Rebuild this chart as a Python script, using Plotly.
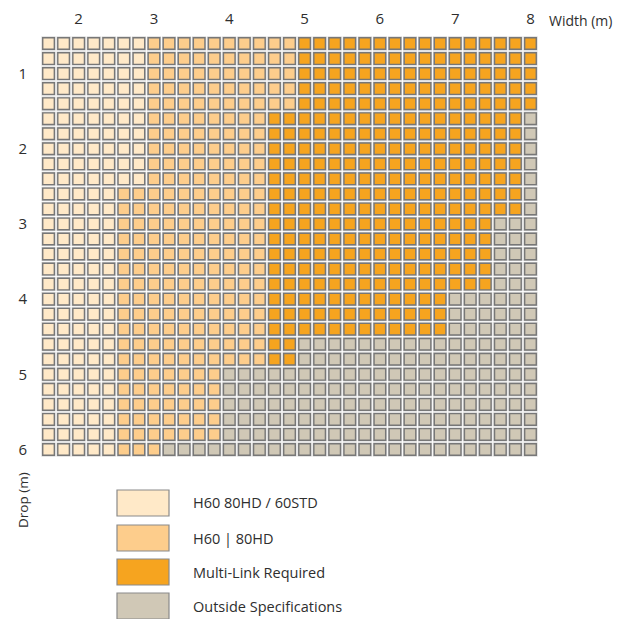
import plotly.graph_objects as go

# ---- data ----
widths = [1.6, 1.8, 2.0, 2.2, 2.4, 2.6, 2.8, 3.0, 3.2, 3.4, 3.6, 3.8, 4.0, 4.2, 4.4, 4.6, 4.8,
          5.0, 5.2, 5.4, 5.6, 5.8, 6.0, 6.2, 6.4, 6.6, 6.8, 7.0, 7.2, 7.4, 7.6, 7.8, 8.0]
drops = [0.6, 0.8, 1.0, 1.2, 1.4, 1.6, 1.8, 2.0, 2.2, 2.4, 2.6, 2.8, 3.0, 3.2, 3.4, 3.6, 3.8,
         4.0, 4.2, 4.4, 4.6, 4.8, 5.0, 5.2, 5.4, 5.6, 5.8, 6.0]

# maximum width (m) for each drop row, per category
light_max = [2.8, 2.8, 2.8, 2.8, 2.8, 2.8, 2.8, 2.8, 2.8, 2.8, 2.4, 2.4, 2.4, 2.4, 2.4, 2.4, 2.4,
             2.4, 2.4, 2.4, 2.4, 2.4, 2.4, 2.4, 2.4, 2.4, 2.4, 2.4]
medium_max = [4.8, 4.8, 4.8, 4.8, 4.8, 4.4, 4.4, 4.4, 4.4, 4.4, 4.4, 4.4, 4.4, 4.4, 4.4, 4.4, 4.4,
              4.4, 4.4, 4.4, 4.4, 4.4, 3.8, 3.8, 3.8, 3.8, 3.8, 3.0]
multi_max = [8.0, 8.0, 8.0, 8.0, 8.0, 7.8, 7.8, 7.8, 7.8, 7.8, 7.8, 7.8, 7.4, 7.4, 7.4, 7.4, 7.4,
             6.8, 6.8, 6.8, 4.8, 4.8, 3.8, 3.8, 3.8, 3.8, 3.8, 3.0]

x_ticks = [2, 3, 4, 5, 6, 7, 8]
y_ticks = [1, 2, 3, 4, 5, 6]

categories = ["H60 80HD / 60STD", "H60 | 80HD", "Multi-Link Required", "Outside Specifications"]
colors = ["#FFE9C8", "#FDCD8C", "#F6A41F", "#D0C8B6"]

# ---- classify cells ----
cells = {i: ([], []) for i in range(4)}
eps = 1e-6
for r, d in enumerate(drops):
    for w in widths:
        if w <= light_max[r] + eps:
            c = 0
        elif w <= medium_max[r] + eps:
            c = 1
        elif w <= multi_max[r] + eps:
            c = 2
        else:
            c = 3
        cells[c][0].append(w)
        cells[c][1].append(d)

FONT = "Open Sans"
TXT = "#2e2e2e"

fig = go.Figure()
for i in range(4):
    fig.add_trace(go.Scatter(
        x=cells[i][0], y=cells[i][1], mode="markers", name=categories[i],
        marker=dict(symbol="square", size=14.2, color="#d2d2d2", line=dict(width=0)),
        hoverinfo="skip", showlegend=False))
for i in range(4):
    fig.add_trace(go.Scatter(
        x=cells[i][0], y=cells[i][1], mode="markers", name=categories[i],
        marker=dict(symbol="square", size=11.6, color=colors[i],
                    line=dict(width=1.4, color="#777777")),
        showlegend=False))

OFF = 8  # page body margin
W, H = 621 - OFF, 619 - OFF
ML, MT = 41 - OFF, 36 - OFF
MR = W - (538 - OFF)
MB = H - (457 - OFF)
PW, PH = W - ML - MR, H - MT - MB


def px_x(px):
    return (px - OFF - ML) / PW


def px_y(py):
    return (H - MB - (py - OFF)) / PH


shapes = []
annotations = []
box_tops = [490, 525, 559, 593]
for i, top in enumerate(box_tops):
    shapes.append(dict(type="rect", xref="paper", yref="paper",
                       x0=px_x(117), x1=px_x(169), y0=px_y(top + 26), y1=px_y(top),
                       fillcolor=colors[i], line=dict(color="#8a8a8a", width=1.2)))
    annotations.append(dict(xref="paper", yref="paper", x=px_x(191), y=px_y(top + 13),
                            text=categories[i], showarrow=False, xanchor="left",
                            yanchor="middle", font=dict(family=FONT, size=14.5, color=TXT)))

annotations.append(dict(xref="paper", yref="paper", x=px_x(547), y=px_y(20),
                        text="Width (m)", showarrow=False, xanchor="left", yanchor="middle",
                        font=dict(family=FONT, size=14, color=TXT)))
annotations.append(dict(xref="paper", yref="paper", x=px_x(23), y=px_y(500),
                        text="Drop (m)", showarrow=False, textangle=-90,
                        xanchor="center", yanchor="middle",
                        font=dict(family=FONT, size=13.5, color=TXT)))

fig.update_layout(
    width=W, height=H,
    margin=dict(l=ML, r=MR, t=MT, b=MB, pad=0, autoexpand=False),
    paper_bgcolor="white", plot_bgcolor="white",
    shapes=shapes, annotations=annotations,
    xaxis=dict(range=[1.5, 8.1], side="top", tickvals=x_ticks, automargin=False,
               ticktext=[str(v) for v in x_ticks], showgrid=False, zeroline=False,
               showline=False, ticks="", ticklabelstandoff=8,
               tickfont=dict(family=FONT, size=15, color=TXT), fixedrange=True),
    yaxis=dict(range=[6.1, 0.5], tickvals=y_ticks, automargin=False,
               ticktext=[str(v) for v in y_ticks], showgrid=False, zeroline=False,
               showline=False, ticks="", ticklabelstandoff=13,
               tickfont=dict(family=FONT, size=15, color=TXT), fixedrange=True),
    showlegend=False,
)

fig.write_html("out.html")
